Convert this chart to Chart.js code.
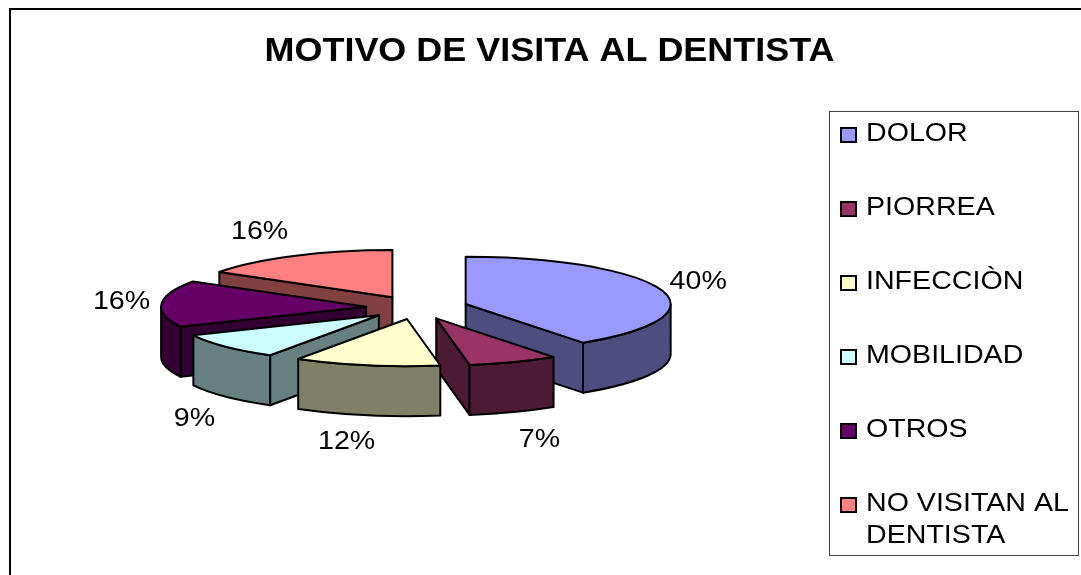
<!DOCTYPE html>
<html>
<head>
<meta charset="utf-8">
<style>html,body{margin:0;padding:0;background:#fff;overflow:hidden}canvas{display:block}</style>
<script src="https://cdn.jsdelivr.net/npm/chart.js@4"></script>
</head>
<body>
<canvas id="c" width="1081" height="575"></canvas>
<script>
const titleText = 'MOTIVO DE VISITA AL DENTISTA';
const categories = ['DOLOR', 'PIORREA', 'INFECCIÒN', 'MOBILIDAD', 'OTROS', ['NO VISITAN AL', 'DENTISTA']];
const values = [40.3, 7.1, 11.5, 9.1, 16, 16];
const topColors = ['#9999FF', '#993366', '#FFFFCC', '#CCFFFF', '#660066', '#FF8080'];
const sideColors = ['#4D4D80', '#4D1A33', '#808066', '#668080', '#330033', '#804040'];

// Drawing order, back to front, and label shifts from each slice's rim
const paintOrder = [5, 4, 0, 3, 1, 2];
const labelShift = [[37, -8], [26, 78], [-20, 77], [-31, 72], [-40, -2], [-34, -24]];

const PIE = {cx: 417, cy: 307.5, tilt: 0.23, depth: 50};
const STRETCH = 1.1, FONT = '"Liberation Sans", Arial, sans-serif';
const LEG = {x: 829, y: 111, w: 249, h: 444, swatchX: 840, textX: 866, base: 141, step: 74, lead: 32};

function stretchedText(ctx, s, x, y, align) {
  ctx.save();
  ctx.translate(x, y);
  ctx.scale(STRETCH, 1);
  ctx.textAlign = align;
  ctx.fillText(s, 0, 0);
  ctx.restore();
}

function drawSlice(ctx, el, i) {
  const mid = (el.startAngle + el.endAngle) / 2;
  const r = el.outerRadius, ry = r * PIE.tilt, d = PIE.depth;
  const ax = PIE.cx + Math.cos(mid) * el.options.offset;
  const ay = PIE.cy + Math.sin(mid) * el.options.offset * PIE.tilt;
  const rim = t => [ax + r * Math.cos(t), ay + ry * Math.sin(t)];
  const paint = fill => { ctx.fillStyle = fill; ctx.fill(); ctx.stroke(); };
  const wall = t => {
    const p = rim(t);
    ctx.beginPath();
    ctx.moveTo(ax, ay); ctx.lineTo(p[0], p[1]);
    ctx.lineTo(p[0], p[1] + d); ctx.lineTo(ax, ay + d);
    ctx.closePath();
    paint(sideColors[i]);
  };
  ctx.lineWidth = 2; ctx.strokeStyle = '#000'; ctx.lineJoin = 'round';
  // Cut faces turned toward the viewer
  if (Math.cos(el.startAngle) < -1e-6) wall(el.startAngle);
  if (Math.cos(el.endAngle) > 1e-6) wall(el.endAngle);
  // Outer rim on the front half
  const a = Math.max(el.startAngle, 0), b = Math.min(el.endAngle, Math.PI);
  if (b > a) {
    ctx.beginPath();
    ctx.ellipse(ax, ay, r, ry, 0, a, b);
    ctx.ellipse(ax, ay + d, r, ry, 0, b, a, true);
    ctx.closePath();
    paint(sideColors[i]);
  }
  // Top face
  ctx.beginPath();
  ctx.moveTo(ax, ay);
  ctx.ellipse(ax, ay, r, ry, 0, el.startAngle, el.endAngle);
  ctx.closePath();
  paint(topColors[i]);
  return {mid, ax, ay, r, ry};
}

const pie3d = {
  id: 'pie3d',
  beforeDraw(chart) {
    const ctx = chart.ctx;
    ctx.save();
    ctx.fillStyle = '#fff';
    ctx.fillRect(0, 0, chart.width, chart.height);
    ctx.strokeStyle = '#000'; ctx.lineWidth = 2;
    ctx.strokeRect(10, 9, chart.width + 40, chart.height + 40);
    ctx.restore();
    // Stretch the library's title horizontally as in the source image
    ctx.save();
    ctx.translate(549.5, 0);
    ctx.scale(STRETCH, 1);
    ctx.translate(-chart.width / 2, 0);
  },
  beforeDatasetsDraw(chart) {
    const ctx = chart.ctx;
    ctx.restore();
    const arcs = chart.getDatasetMeta(0).data;
    const geo = [];
    ctx.save();
    paintOrder.forEach(i => { geo[i] = drawSlice(ctx, arcs[i], i); });
    ctx.restore();

    const total = values.reduce((s, v) => s + v, 0);
    ctx.save();
    ctx.fillStyle = '#000';
    ctx.font = '26px ' + FONT;
    ctx.textBaseline = 'middle';
    values.forEach((v, i) => {
      const g = geo[i];
      stretchedText(ctx, Math.round(v / total * 100) + '%',
        g.ax + g.r * Math.cos(g.mid) + labelShift[i][0],
        g.ay + g.ry * Math.sin(g.mid) + labelShift[i][1], 'center');
    });
    ctx.restore();

    // Legend
    ctx.save();
    ctx.strokeStyle = '#444'; ctx.lineWidth = 1;
    ctx.strokeRect(LEG.x + 0.5, LEG.y + 0.5, LEG.w, LEG.h);
    ctx.font = '26px ' + FONT;
    ctx.textBaseline = 'alphabetic';
    categories.forEach((c, i) => {
      const y = LEG.base + i * LEG.step;
      ctx.fillStyle = topColors[i];
      ctx.strokeStyle = '#000'; ctx.lineWidth = 2;
      ctx.beginPath();
      ctx.rect(LEG.swatchX + 1, y - 13, 15, 14);
      ctx.fill(); ctx.stroke();
      ctx.fillStyle = '#000';
      [].concat(c).forEach((line, k) => stretchedText(ctx, line, LEG.textX, y + k * LEG.lead, 'left'));
    });
    ctx.restore();
    return false;
  }
};

new Chart(document.getElementById('c'), {
  type: 'pie',
  data: {
    labels: categories,
    datasets: [{data: values, backgroundColor: topColors, offset: 51, borderWidth: 2, borderColor: '#000', hoverOffset: 0}]
  },
  options: {
    responsive: false,
    animation: false,
    radius: 205,
    events: [],
    plugins: {
      legend: {display: false},
      tooltip: {enabled: false},
      title: {
        display: true,
        text: titleText,
        color: '#000',
        font: {family: FONT, size: 32.7, weight: 'bold'},
        padding: {top: 32.5, bottom: 0}
      }
    }
  },
  plugins: [pie3d]
});
</script>
</body>
</html>
